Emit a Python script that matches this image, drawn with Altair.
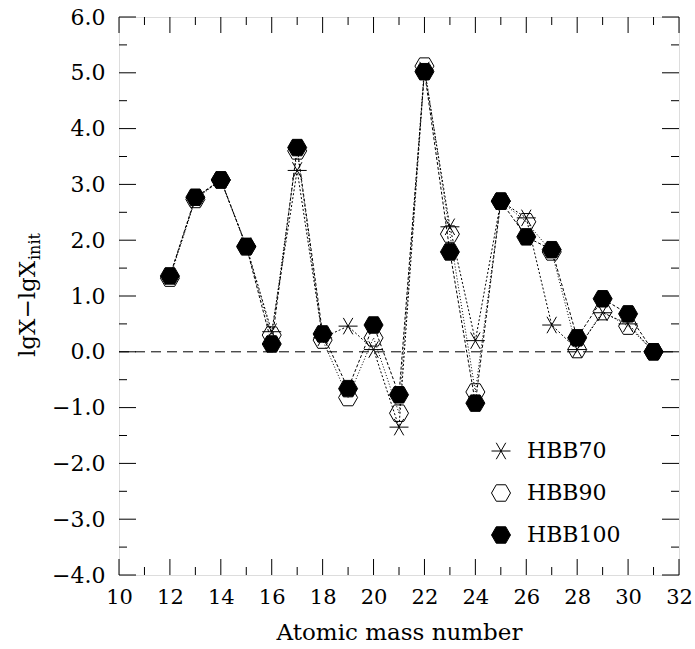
import altair as alt
import pandas as pd

# Data
mass = [12, 13, 14, 15, 16, 17, 18, 19, 20, 21, 22, 23, 24, 25, 26, 27, 28, 29, 30, 31]
hbb70 = [1.35, 2.75, 3.08, 1.90, 0.36, 3.25, 0.25, 0.46, 0.04, -1.35, 5.05, 2.24, 0.20, 2.70, 2.40, 0.48, 0.04, 0.70, 0.50, 0.00]
hbb90 = [1.32, 2.73, 3.08, 1.88, 0.30, 3.60, 0.21, -0.82, 0.25, -1.10, 5.12, 2.11, -0.72, 2.70, 2.33, 1.79, 0.04, 0.72, 0.46, 0.00]
hbb100 = [1.36, 2.77, 3.08, 1.89, 0.14, 3.66, 0.32, -0.66, 0.48, -0.77, 5.02, 1.79, -0.92, 2.70, 2.06, 1.83, 0.25, 0.95, 0.68, 0.00]
series_names = ["HBB70", "HBB90", "HBB100"]

x_major = list(range(10, 33, 2))
x_minor = list(range(11, 32, 2))
y_major = [-4.0, -3.0, -2.0, -1.0, 0.0, 1.0, 2.0, 3.0, 4.0, 5.0, 6.0]
y_minor = [-3.5, -2.5, -1.5, -0.5, 0.5, 1.5, 2.5, 3.5, 4.5, 5.5]

rows = []
for name, vals in zip(series_names, [hbb70, hbb90, hbb100]):
    for a, v in zip(mass, vals):
        rows.append({"A": a, "val": v, "series": name})
df = pd.DataFrame(rows)

W, H = 560, 558
FONT = "DejaVu Serif"
HEX = "M-1,0L-0.5,-0.866L0.5,-0.866L1,0L0.5,0.866L-0.5,0.866Z"
STAR = "M-1,0L1,0M-0.5,-0.866L0.5,0.866M0.5,-0.866L-0.5,0.866"
SHAPES = [STAR, HEX, HEX]
FILLS = ["transparent", "transparent", "black"]

xscale = alt.Scale(domain=[10, 32], nice=False, zero=False)
yscale = alt.Scale(domain=[-4, 6], nice=False, zero=False)

xaxis = alt.Axis(values=x_major, format="d", labelFontSize=21, labelFont=FONT, labelColor="black",
                 tickSize=0, domain=False, grid=False, labelPadding=11, labelFlush=False,
                 labelOverlap=False, title="Atomic mass number", titleFont=FONT,
                 titleFontSize=23, titleFontWeight="normal", titleColor="black", titlePadding=14)
yaxis = alt.Axis(values=y_major, format=".1f", labelFontSize=22, labelFont=FONT, labelColor="black",
                 tickSize=0, domain=False, grid=False, labelPadding=14, labelFlush=False,
                 labelOverlap=False, title=None)

base = alt.Chart(df)

lines = base.mark_line(color="black", strokeWidth=1).encode(
    x=alt.X("A:Q", scale=xscale, axis=xaxis),
    y=alt.Y("val:Q", scale=yscale, axis=yaxis),
    detail="series:N",
    order="A:Q",
    strokeDash=alt.StrokeDash("series:N", scale=alt.Scale(domain=series_names,
                              range=[[2, 2], [1, 2], [3, 2]]), legend=None),
)

points = base.mark_point(stroke="black", strokeWidth=1, opacity=1, size=361).encode(
    x=alt.X("A:Q", scale=xscale),
    y=alt.Y("val:Q", scale=yscale),
    shape=alt.Shape("series:N", scale=alt.Scale(domain=series_names, range=SHAPES), legend=None),
    fill=alt.Fill("series:N", scale=alt.Scale(domain=series_names, range=FILLS), legend=None),
)

zero = alt.Chart(pd.DataFrame({"z": [0.0]})).mark_rule(color="black", strokeWidth=1,
                                                       strokeDash=[10, 6]).encode(
    y=alt.Y("z:Q", scale=yscale), x=alt.value(0), x2=alt.value(W))

MAJ, MIN = 16, 8
xmaj = pd.DataFrame({"t": x_major})
xmin = pd.DataFrame({"t": x_minor})
ymaj = pd.DataFrame({"t": y_major})
ymin = pd.DataFrame({"t": y_minor})

def xticks(d, L):
    b = alt.Chart(d).mark_rule(color="black", strokeWidth=1)
    return (b.encode(x=alt.X("t:Q", scale=xscale), y=alt.value(H), y2=alt.value(H - L)) +
            b.encode(x=alt.X("t:Q", scale=xscale), y=alt.value(0), y2=alt.value(L)))

def yticks(d, L):
    b = alt.Chart(d).mark_rule(color="black", strokeWidth=1)
    return (b.encode(y=alt.Y("t:Q", scale=yscale), x=alt.value(0), x2=alt.value(L)) +
            b.encode(y=alt.Y("t:Q", scale=yscale), x=alt.value(W), x2=alt.value(W - L)))

ttl = pd.DataFrame({"a": ["lgX−lgX"], "b": ["init"]})
ytitle_main = alt.Chart(ttl).mark_text(angle=270, align="left", baseline="alphabetic",
                                       font=FONT, fontSize=23, color="black").encode(
    text="a:N", x=alt.value(-84), y=alt.value(340))
ytitle_sub = alt.Chart(ttl).mark_text(angle=270, align="left", baseline="alphabetic",
                                      font=FONT, fontSize=16, color="black").encode(
    text="b:N", x=alt.value(-79), y=alt.value(243))

# Manual legend
legend_layers = []
LEG_X, LEG_Y0, LEG_DY = 382, 434, 42
for i, name in enumerate(series_names):
    ld = pd.DataFrame({"label": [name]})
    legend_layers.append(
        alt.Chart(ld).mark_point(shape=SHAPES[i], fill=FILLS[i], stroke="black", strokeWidth=1,
                                 opacity=1, size=361).encode(
            x=alt.value(LEG_X), y=alt.value(LEG_Y0 + LEG_DY * i)))
    legend_layers.append(
        alt.Chart(ld).mark_text(align="left", baseline="middle", font=FONT, fontSize=22,
                                color="black").encode(
            text="label:N", x=alt.value(LEG_X + 26), y=alt.value(LEG_Y0 + LEG_DY * i)))

chart = alt.layer(
    zero, xticks(xmaj, MAJ), xticks(xmin, MIN), yticks(ymaj, MAJ + 1), yticks(ymin, MIN),
    lines, points, ytitle_main, ytitle_sub, *legend_layers
).properties(
    width=W, height=H,
    autosize=alt.AutoSizeParams(type="none"),
    padding={"left": 119, "top": 17, "right": 16, "bottom": 74},
).configure_view(stroke="black", strokeWidth=1).configure(background="white")

chart.save("out.html", embed_options={"renderer": "svg", "actions": False})
